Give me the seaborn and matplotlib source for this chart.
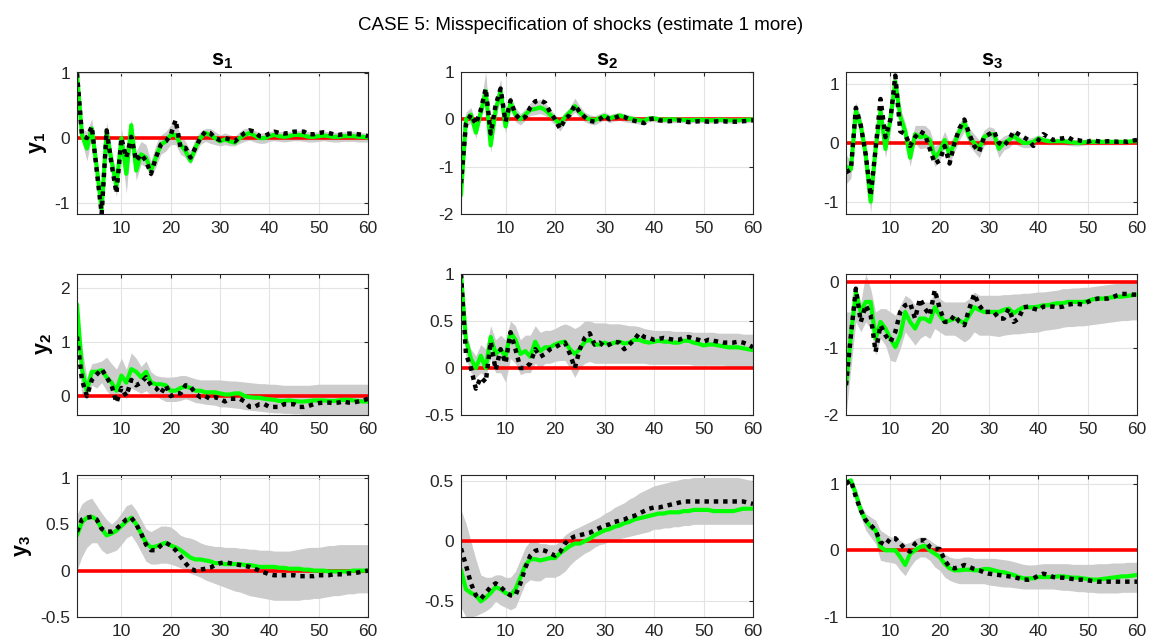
import numpy as np
import pandas as pd
import matplotlib
matplotlib.use("Agg")
import matplotlib.pyplot as plt
import seaborn as sns
from matplotlib.ticker import FormatStrFormatter, FixedLocator

# ---------------- data ----------------
title = "CASE 5: Misspecification of shocks (estimate 1 more)"
col_titles = [r"$\mathbf{s_1}$", r"$\mathbf{s_2}$", r"$\mathbf{s_3}$"]
row_labels = [r"$\mathbf{y_1}$", r"$\mathbf{y_2}$", r"$\mathbf{y_3}$"]
xticks = [10, 20, 30, 40, 50, 60]

# panel (y1, s1)
green11 = [1.0, 0.05, -0.16, 0.15, -0.45, -1.1, 0.1, -0.35, -0.75, 0.0, -0.55, 0.2, -0.5, -0.25, -0.3, -0.5, -0.3, -0.1, -0.05, 0.05, 0.05, -0.1, -0.2, -0.35, -0.15, 0.0, 0.08, 0.05, 0.0, -0.05, -0.02, -0.05, -0.07, 0.0, 0.05, 0.08, 0.04, 0.0, 0.0, 0.03, 0.05, 0.03, 0.02, 0.03, 0.05, 0.05, 0.04, 0.02, 0.02, 0.03, 0.04, 0.03, 0.02, 0.02, 0.03, 0.03, 0.03, 0.02, 0.02, 0.01]
black11 = [1.0, 0.05, 0.0, 0.18, -0.5, -1.17, 0.12, -0.4, -0.85, 0.0, -0.3, 0.02, -0.35, -0.25, -0.35, -0.55, -0.3, -0.1, -0.05, 0.05, 0.28, -0.15, -0.15, -0.3, -0.15, 0.0, 0.1, 0.08, 0.0, -0.03, 0.0, -0.02, -0.05, 0.02, 0.08, 0.12, 0.1, 0.03, 0.03, 0.07, 0.1, 0.08, 0.07, 0.08, 0.1, 0.1, 0.1, 0.06, 0.06, 0.08, 0.09, 0.08, 0.06, 0.05, 0.06, 0.07, 0.07, 0.06, 0.05, 0.03]
lo11 = [1.0, -0.05, -0.35, 0.0, -0.6, -1.2, -0.05, -0.5, -0.9, -0.15, -0.85, 0.0, -0.65, -0.4, -0.45, -0.6, -0.45, -0.25, -0.2, -0.1, -0.1, -0.25, -0.3, -0.4, -0.25, -0.1, -0.05, -0.08, -0.1, -0.12, -0.1, -0.12, -0.12, -0.08, -0.05, -0.03, -0.06, -0.08, -0.08, -0.05, -0.04, -0.05, -0.06, -0.05, -0.04, -0.04, -0.05, -0.06, -0.06, -0.05, -0.04, -0.05, -0.06, -0.06, -0.05, -0.05, -0.05, -0.06, -0.06, -0.06]
hi11 = [1.0, 0.15, 0.1, 0.3, -0.3, -0.95, 0.25, -0.2, -0.6, 0.15, -0.3, 0.3, -0.2, -0.05, -0.1, -0.35, -0.1, 0.05, 0.1, 0.2, 0.22, 0.05, -0.05, -0.2, 0.0, 0.1, 0.15, 0.15, 0.1, 0.05, 0.08, 0.05, 0.03, 0.1, 0.15, 0.15, 0.12, 0.08, 0.08, 0.1, 0.12, 0.1, 0.1, 0.1, 0.12, 0.12, 0.11, 0.1, 0.09, 0.1, 0.11, 0.1, 0.09, 0.09, 0.1, 0.1, 0.1, 0.09, 0.08, 0.08]

# panel (y1, s2)
green12 = [-1.6, 0.0, 0.1, -0.28, 0.15, 0.6, -0.55, 0.2, 0.6, -0.15, 0.35, 0.1, 0.0, 0.1, 0.2, 0.22, 0.25, 0.2, 0.1, 0.0, -0.1, 0.05, 0.15, 0.28, 0.15, 0.05, 0.0, -0.02, 0.03, 0.07, 0.02, 0.05, 0.08, 0.05, 0.02, 0.0, -0.02, -0.03, 0.02, 0.02, 0.0, -0.01, 0.0, 0.0, -0.01, -0.01, -0.02, -0.01, -0.01, -0.01, -0.02, -0.02, -0.01, -0.01, -0.02, -0.02, -0.02, -0.01, -0.01, 0.0]
black12 = [-1.35, -0.1, 0.1, -0.1, 0.2, 0.65, -0.3, 0.3, 0.65, -0.05, 0.4, 0.1, 0.0, 0.05, 0.25, 0.38, 0.4, 0.35, 0.15, 0.0, -0.2, 0.0, 0.1, 0.3, 0.15, 0.05, -0.03, -0.05, 0.0, 0.08, 0.0, 0.03, 0.07, 0.05, 0.0, -0.03, -0.05, -0.08, 0.0, 0.02, -0.02, -0.03, -0.04, -0.03, -0.02, -0.04, -0.06, -0.05, -0.04, -0.04, -0.05, -0.05, -0.04, -0.04, -0.05, -0.05, -0.05, -0.04, -0.03, -0.02]
lo12 = [-1.9, -0.2, -0.05, -0.4, 0.0, 0.4, -0.7, 0.0, 0.45, -0.3, 0.2, -0.05, -0.12, -0.02, 0.08, 0.1, 0.12, 0.08, -0.02, -0.12, -0.25, -0.08, 0.05, 0.15, 0.03, -0.05, -0.1, -0.12, -0.06, -0.02, -0.07, -0.04, -0.02, -0.05, -0.07, -0.08, -0.1, -0.1, -0.05, -0.05, -0.07, -0.07, -0.07, -0.07, -0.07, -0.07, -0.08, -0.07, -0.07, -0.07, -0.08, -0.08, -0.07, -0.07, -0.08, -0.08, -0.08, -0.07, -0.07, -0.06]
hi12 = [-1.2, 0.15, 0.25, -0.1, 0.35, 1.0, -0.3, 0.4, 0.85, 0.05, 0.5, 0.25, 0.12, 0.22, 0.35, 0.38, 0.42, 0.35, 0.22, 0.1, 0.0, 0.15, 0.25, 0.45, 0.28, 0.15, 0.1, 0.07, 0.12, 0.16, 0.1, 0.13, 0.15, 0.12, 0.09, 0.07, 0.05, 0.04, 0.08, 0.08, 0.06, 0.05, 0.05, 0.05, 0.04, 0.04, 0.03, 0.04, 0.04, 0.04, 0.03, 0.03, 0.04, 0.04, 0.03, 0.03, 0.03, 0.04, 0.04, 0.05]

# panel (y1, s3)
green13 = [-0.4, -0.45, 0.55, 0.3, -0.2, -1.0, -0.1, 0.55, -0.1, 0.4, 1.05, 0.45, 0.2, -0.25, 0.15, 0.1, 0.12, 0.05, -0.25, -0.15, 0.05, -0.2, 0.0, 0.2, 0.35, 0.1, 0.0, -0.1, 0.1, 0.15, 0.15, -0.1, 0.0, 0.05, 0.12, 0.05, 0.0, 0.0, 0.02, 0.08, 0.05, 0.03, 0.03, 0.03, 0.03, 0.02, 0.01, 0.0, 0.01, 0.02, 0.02, 0.02, 0.02, 0.02, 0.02, 0.02, 0.02, 0.02, 0.03, 0.03]
black13 = [-0.5, -0.45, 0.6, 0.3, -0.2, -0.9, -0.1, 0.75, 0.1, 0.4, 1.15, 0.2, 0.15, -0.05, 0.1, 0.2, 0.15, -0.1, -0.35, -0.3, -0.05, -0.35, 0.0, 0.25, 0.4, 0.15, -0.05, -0.15, 0.1, 0.15, 0.2, 0.0, -0.05, 0.05, 0.2, 0.15, 0.1, 0.05, -0.05, 0.05, 0.15, 0.1, 0.05, 0.07, 0.08, 0.1, 0.05, 0.05, 0.03, 0.02, 0.05, 0.03, 0.02, 0.03, 0.03, 0.02, 0.03, 0.02, 0.04, 0.05]
lo13 = [-0.7, -0.6, 0.4, 0.15, -0.35, -1.2, -0.25, 0.35, -0.25, 0.25, 0.9, 0.3, 0.05, -0.4, 0.0, -0.1, -0.08, -0.12, -0.4, -0.3, -0.1, -0.35, -0.15, 0.05, 0.2, -0.05, -0.15, -0.25, -0.05, 0.0, 0.0, -0.25, -0.12, -0.08, 0.0, -0.05, -0.08, -0.08, -0.06, 0.0, -0.02, -0.03, -0.03, -0.03, -0.03, -0.04, -0.05, -0.05, -0.04, -0.03, -0.03, -0.03, -0.03, -0.03, -0.03, -0.03, -0.03, -0.03, -0.02, -0.02]
hi13 = [-0.2, -0.3, 0.7, 0.45, -0.05, -0.8, 0.05, 0.7, 0.05, 0.55, 1.15, 0.6, 0.35, -0.05, 0.3, 0.3, 0.3, 0.22, -0.05, 0.0, 0.2, 0.0, 0.15, 0.35, 0.45, 0.25, 0.15, 0.05, 0.22, 0.28, 0.25, 0.05, 0.12, 0.15, 0.2, 0.12, 0.08, 0.08, 0.1, 0.14, 0.1, 0.08, 0.08, 0.08, 0.08, 0.07, 0.06, 0.06, 0.06, 0.07, 0.07, 0.06, 0.06, 0.06, 0.06, 0.06, 0.06, 0.06, 0.07, 0.07]

# panel (y2, s1)
green21 = [1.7, 0.5, 0.1, 0.45, 0.45, 0.48, 0.35, 0.25, 0.1, 0.38, 0.25, 0.5, 0.45, 0.35, 0.45, 0.25, 0.22, 0.22, 0.2, 0.1, 0.1, 0.15, 0.18, 0.15, 0.1, 0.1, 0.07, 0.07, 0.07, 0.05, 0.03, 0.03, 0.05, 0.05, 0.0, -0.02, -0.03, -0.03, -0.05, -0.06, -0.07, -0.09, -0.09, -0.08, -0.09, -0.1, -0.1, -0.09, -0.08, -0.08, -0.08, -0.09, -0.09, -0.08, -0.07, -0.07, -0.08, -0.09, -0.1, -0.1]
black21 = [1.1, 0.3, 0.0, 0.3, 0.4, 0.5, 0.35, 0.2, -0.12, 0.15, 0.0, 0.3, 0.2, 0.25, 0.35, 0.2, 0.15, 0.05, 0.2, 0.0, 0.05, 0.05, 0.2, 0.18, 0.05, -0.02, 0.0, -0.05, -0.02, -0.05, -0.1, -0.05, -0.05, -0.05, -0.1, -0.2, -0.2, -0.15, -0.15, -0.2, -0.2, -0.2, -0.15, -0.15, -0.15, -0.2, -0.2, -0.18, -0.15, -0.13, -0.12, -0.12, -0.13, -0.12, -0.1, -0.12, -0.12, -0.1, -0.08, -0.05]
lo21 = [1.0, 0.0, -0.05, 0.2, 0.15, 0.25, 0.1, 0.0, -0.1, 0.05, -0.05, 0.15, 0.1, 0.05, 0.1, 0.02, 0.0, -0.05, -0.1, -0.1, -0.1, -0.08, -0.05, -0.08, -0.12, -0.13, -0.15, -0.16, -0.17, -0.2, -0.2, -0.21, -0.22, -0.23, -0.25, -0.26, -0.27, -0.28, -0.29, -0.3, -0.31, -0.31, -0.32, -0.32, -0.33, -0.33, -0.34, -0.34, -0.35, -0.35, -0.35, -0.35, -0.35, -0.35, -0.35, -0.35, -0.35, -0.35, -0.35, -0.35]
hi21 = [1.7, 0.9, 0.35, 0.6, 0.62, 0.65, 0.72, 0.6, 0.5, 0.7, 0.5, 0.8, 0.7, 0.55, 0.65, 0.45, 0.38, 0.36, 0.35, 0.35, 0.36, 0.38, 0.38, 0.35, 0.32, 0.3, 0.3, 0.3, 0.3, 0.3, 0.29, 0.28, 0.28, 0.27, 0.26, 0.25, 0.24, 0.23, 0.23, 0.22, 0.22, 0.21, 0.2, 0.2, 0.2, 0.2, 0.2, 0.2, 0.21, 0.22, 0.22, 0.22, 0.22, 0.22, 0.22, 0.22, 0.22, 0.22, 0.22, 0.22]

# panel (y2, s2)
green22 = [1.0, 0.3, 0.1, 0.0, 0.13, 0.0, 0.33, 0.15, 0.2, 0.12, 0.38, 0.3, 0.15, 0.18, 0.12, 0.28, 0.18, 0.22, 0.22, 0.25, 0.27, 0.28, 0.2, 0.15, 0.2, 0.28, 0.3, 0.25, 0.25, 0.27, 0.25, 0.27, 0.28, 0.26, 0.27, 0.3, 0.3, 0.28, 0.27, 0.28, 0.29, 0.28, 0.28, 0.27, 0.27, 0.29, 0.29, 0.27, 0.26, 0.24, 0.25, 0.25, 0.24, 0.23, 0.22, 0.22, 0.22, 0.21, 0.2, 0.19]
black22 = [1.0, 0.15, 0.0, -0.22, -0.1, -0.15, 0.28, -0.02, 0.2, 0.05, 0.38, 0.2, 0.0, 0.0, 0.05, 0.2, 0.12, 0.15, 0.2, 0.22, 0.25, 0.27, 0.15, 0.0, 0.2, 0.32, 0.37, 0.25, 0.27, 0.23, 0.25, 0.28, 0.27, 0.2, 0.25, 0.3, 0.37, 0.33, 0.32, 0.3, 0.31, 0.32, 0.31, 0.3, 0.3, 0.32, 0.33, 0.31, 0.3, 0.28, 0.3, 0.29, 0.28, 0.27, 0.27, 0.27, 0.28, 0.27, 0.25, 0.22]
lo22 = [1.0, 0.1, -0.05, -0.1, -0.05, -0.1, 0.1, -0.05, -0.05, -0.15, 0.1, 0.05, -0.07, -0.05, -0.05, 0.05, 0.0, 0.05, 0.05, 0.07, 0.08, 0.08, 0.0, -0.1, 0.0, 0.05, 0.07, 0.05, 0.05, 0.05, 0.05, 0.05, 0.05, 0.05, 0.05, 0.05, 0.05, 0.05, 0.04, 0.04, 0.04, 0.04, 0.04, 0.04, 0.04, 0.04, 0.04, 0.03, 0.03, 0.03, 0.03, 0.03, 0.03, 0.03, 0.02, 0.02, 0.02, 0.02, 0.02, 0.02]
hi22 = [1.0, 0.35, 0.2, 0.13, 0.25, 0.2, 0.45, 0.3, 0.35, 0.3, 0.5, 0.45, 0.3, 0.35, 0.35, 0.45, 0.38, 0.4, 0.4, 0.42, 0.45, 0.47, 0.45, 0.42, 0.45, 0.5, 0.5, 0.48, 0.48, 0.48, 0.47, 0.47, 0.47, 0.46, 0.45, 0.45, 0.44, 0.42, 0.41, 0.4, 0.4, 0.4, 0.4, 0.39, 0.39, 0.39, 0.39, 0.38, 0.38, 0.38, 0.38, 0.38, 0.37, 0.37, 0.37, 0.37, 0.37, 0.36, 0.36, 0.36]

# panel (y2, s3)
green23 = [-1.55, -0.8, -0.15, -0.45, -0.3, -0.3, -0.85, -0.6, -0.7, -0.85, -0.98, -0.8, -0.45, -0.6, -0.7, -0.55, -0.55, -0.6, -0.38, -0.5, -0.6, -0.58, -0.55, -0.58, -0.62, -0.5, -0.38, -0.42, -0.45, -0.45, -0.45, -0.45, -0.42, -0.4, -0.47, -0.42, -0.38, -0.38, -0.38, -0.37, -0.35, -0.35, -0.33, -0.32, -0.32, -0.3, -0.3, -0.3, -0.3, -0.29, -0.26, -0.25, -0.25, -0.24, -0.23, -0.22, -0.22, -0.21, -0.2, -0.19]
black23 = [-1.55, -0.8, -0.1, -0.6, -0.35, -0.5, -1.05, -0.65, -0.8, -0.9, -0.75, -0.45, -0.35, -0.32, -0.55, -0.25, -0.4, -0.5, -0.12, -0.4, -0.6, -0.6, -0.5, -0.6, -0.65, -0.4, -0.18, -0.35, -0.45, -0.45, -0.45, -0.55, -0.55, -0.4, -0.6, -0.55, -0.38, -0.37, -0.4, -0.42, -0.37, -0.37, -0.37, -0.38, -0.37, -0.34, -0.33, -0.33, -0.34, -0.3, -0.27, -0.25, -0.25, -0.25, -0.23, -0.2, -0.18, -0.18, -0.19, -0.19]
lo23 = [-2.0, -1.3, -0.6, -0.75, -0.6, -0.7, -1.1, -0.85, -0.95, -1.18, -1.2, -1.0, -0.75, -0.85, -0.95, -0.85, -0.8, -0.85, -0.7, -0.75, -0.8, -0.8, -0.8, -0.85, -0.9, -0.85, -0.75, -0.8, -0.8, -0.8, -0.81, -0.82, -0.8, -0.79, -0.78, -0.78, -0.77, -0.76, -0.76, -0.75, -0.73, -0.72, -0.71, -0.7, -0.68, -0.67, -0.67, -0.66, -0.66, -0.65, -0.64, -0.63, -0.62, -0.61, -0.6, -0.59, -0.58, -0.58, -0.57, -0.57]
hi23 = [-0.45, -0.45, -0.1, -0.3, 0.12, -0.1, -0.45, -0.4, -0.4, -0.45, -0.5, -0.35, -0.2, -0.25, -0.35, -0.3, -0.3, -0.3, -0.15, -0.25, -0.3, -0.3, -0.3, -0.3, -0.3, -0.25, -0.15, -0.2, -0.2, -0.2, -0.2, -0.2, -0.19, -0.19, -0.18, -0.18, -0.17, -0.17, -0.16, -0.15, -0.15, -0.14, -0.13, -0.12, -0.1, -0.1, -0.09, -0.09, -0.08, -0.08, -0.07, -0.06, -0.05, -0.04, -0.03, -0.02, -0.01, 0.0, 0.01, 0.02]

# panel (y3, s1)
green31 = [0.38, 0.52, 0.57, 0.58, 0.55, 0.45, 0.38, 0.4, 0.43, 0.48, 0.53, 0.57, 0.5, 0.4, 0.3, 0.25, 0.26, 0.28, 0.3, 0.27, 0.25, 0.22, 0.18, 0.14, 0.12, 0.12, 0.11, 0.1, 0.08, 0.08, 0.07, 0.07, 0.07, 0.07, 0.06, 0.06, 0.05, 0.04, 0.04, 0.04, 0.04, 0.03, 0.03, 0.02, 0.02, 0.02, 0.01, 0.01, 0.0, 0.0, 0.0, -0.01, -0.01, -0.01, -0.01, -0.01, 0.0, 0.0, 0.0, 0.0]
black31 = [0.42, 0.55, 0.57, 0.58, 0.55, 0.45, 0.42, 0.42, 0.45, 0.5, 0.55, 0.57, 0.5, 0.4, 0.28, 0.22, 0.22, 0.27, 0.3, 0.27, 0.22, 0.15, 0.08, 0.02, 0.0, 0.01, 0.02, 0.03, 0.06, 0.08, 0.09, 0.08, 0.07, 0.06, 0.05, 0.04, 0.02, 0.0, -0.02, -0.04, -0.05, -0.05, -0.05, -0.05, -0.05, -0.06, -0.06, -0.06, -0.06, -0.05, -0.05, -0.05, -0.04, -0.04, -0.04, -0.03, -0.03, -0.02, -0.01, 0.0]
lo31 = [0.0, 0.15, 0.25, 0.3, 0.3, 0.22, 0.18, 0.2, 0.22, 0.28, 0.35, 0.38, 0.3, 0.2, 0.1, 0.07, 0.07, 0.08, 0.08, 0.07, 0.05, 0.03, 0.0, -0.03, -0.05, -0.07, -0.1, -0.12, -0.14, -0.16, -0.18, -0.2, -0.22, -0.23, -0.25, -0.27, -0.28, -0.29, -0.3, -0.31, -0.32, -0.32, -0.32, -0.32, -0.32, -0.32, -0.31, -0.31, -0.3, -0.3, -0.29, -0.28, -0.27, -0.27, -0.26, -0.25, -0.25, -0.24, -0.24, -0.24]
hi31 = [0.6, 0.72, 0.76, 0.78, 0.7, 0.62, 0.55, 0.5, 0.55, 0.62, 0.7, 0.72, 0.65, 0.55, 0.45, 0.42, 0.45, 0.48, 0.48, 0.47, 0.43, 0.38, 0.36, 0.35, 0.33, 0.3, 0.28, 0.27, 0.26, 0.26, 0.25, 0.25, 0.25, 0.24, 0.24, 0.23, 0.23, 0.22, 0.22, 0.22, 0.21, 0.21, 0.21, 0.21, 0.22, 0.23, 0.24, 0.25, 0.25, 0.25, 0.26, 0.27, 0.27, 0.28, 0.28, 0.28, 0.28, 0.28, 0.28, 0.28]

# panel (y3, s2)
green32 = [-0.24, -0.4, -0.43, -0.45, -0.5, -0.47, -0.43, -0.38, -0.4, -0.43, -0.45, -0.4, -0.3, -0.2, -0.15, -0.15, -0.16, -0.15, -0.14, -0.14, -0.1, -0.07, -0.04, -0.02, -0.02, 0.0, 0.02, 0.05, 0.07, 0.09, 0.1, 0.12, 0.13, 0.15, 0.16, 0.18, 0.19, 0.2, 0.21, 0.22, 0.23, 0.23, 0.24, 0.24, 0.24, 0.25, 0.25, 0.26, 0.26, 0.26, 0.26, 0.25, 0.25, 0.25, 0.25, 0.25, 0.26, 0.27, 0.27, 0.27]
black32 = [-0.06, -0.2, -0.35, -0.45, -0.48, -0.43, -0.38, -0.35, -0.38, -0.42, -0.45, -0.45, -0.35, -0.22, -0.12, -0.08, -0.07, -0.08, -0.1, -0.12, -0.09, -0.02, 0.02, 0.04, 0.05, 0.06, 0.07, 0.09, 0.11, 0.13, 0.14, 0.16, 0.17, 0.18, 0.2, 0.21, 0.23, 0.25, 0.27, 0.28, 0.28, 0.29, 0.3, 0.31, 0.32, 0.33, 0.33, 0.33, 0.33, 0.33, 0.33, 0.33, 0.33, 0.33, 0.33, 0.33, 0.33, 0.33, 0.32, 0.31]
lo32 = [-0.55, -0.63, -0.63, -0.62, -0.6, -0.58, -0.55, -0.5, -0.53, -0.55, -0.57, -0.55, -0.45, -0.35, -0.32, -0.33, -0.33, -0.3, -0.3, -0.3, -0.28, -0.25, -0.2, -0.16, -0.13, -0.1, -0.08, -0.05, -0.03, -0.02, 0.0, 0.01, 0.02, 0.03, 0.04, 0.05, 0.06, 0.07, 0.08, 0.1, 0.1, 0.11, 0.11, 0.12, 0.12, 0.13, 0.13, 0.14, 0.14, 0.14, 0.14, 0.14, 0.14, 0.14, 0.14, 0.14, 0.14, 0.14, 0.14, 0.14]
hi32 = [0.26, 0.15, 0.0, -0.15, -0.28, -0.3, -0.3, -0.28, -0.28, -0.3, -0.3, -0.25, -0.15, -0.05, 0.0, 0.0, -0.02, -0.02, -0.03, -0.03, 0.0, 0.05, 0.08, 0.1, 0.12, 0.14, 0.16, 0.18, 0.2, 0.23, 0.25, 0.28, 0.3, 0.32, 0.35, 0.37, 0.4, 0.42, 0.44, 0.46, 0.47, 0.48, 0.49, 0.5, 0.51, 0.52, 0.52, 0.53, 0.53, 0.53, 0.53, 0.53, 0.53, 0.53, 0.53, 0.53, 0.53, 0.52, 0.51, 0.5]

# panel (y3, s3)
green33 = [1.02, 1.05, 0.85, 0.6, 0.45, 0.35, 0.3, 0.05, 0.0, 0.0, 0.0, -0.1, -0.22, -0.05, 0.0, 0.05, 0.07, 0.0, -0.05, -0.1, -0.2, -0.27, -0.3, -0.3, -0.29, -0.29, -0.3, -0.3, -0.28, -0.28, -0.3, -0.32, -0.33, -0.35, -0.37, -0.4, -0.42, -0.42, -0.42, -0.4, -0.4, -0.4, -0.4, -0.39, -0.39, -0.4, -0.41, -0.41, -0.42, -0.43, -0.44, -0.44, -0.43, -0.42, -0.41, -0.4, -0.39, -0.39, -0.38, -0.37]
black33 = [1.0, 1.05, 0.8, 0.6, 0.45, 0.38, 0.3, 0.12, 0.08, 0.18, 0.18, 0.1, 0.02, -0.02, 0.1, 0.15, 0.15, 0.05, 0.02, 0.02, -0.15, -0.25, -0.27, -0.25, -0.22, -0.25, -0.28, -0.3, -0.33, -0.35, -0.36, -0.37, -0.38, -0.39, -0.4, -0.42, -0.44, -0.44, -0.42, -0.38, -0.35, -0.37, -0.4, -0.41, -0.41, -0.42, -0.43, -0.44, -0.44, -0.45, -0.46, -0.47, -0.47, -0.47, -0.47, -0.47, -0.47, -0.47, -0.47, -0.47]
lo33 = [1.0, 1.0, 0.7, 0.5, 0.3, 0.2, 0.1, -0.15, -0.17, -0.18, -0.2, -0.3, -0.38, -0.25, -0.15, -0.1, -0.1, -0.15, -0.25, -0.3, -0.4, -0.45, -0.48, -0.5, -0.5, -0.5, -0.5, -0.5, -0.5, -0.52, -0.53, -0.54, -0.55, -0.55, -0.56, -0.57, -0.58, -0.58, -0.58, -0.58, -0.58, -0.58, -0.58, -0.59, -0.6, -0.6, -0.61, -0.62, -0.62, -0.63, -0.63, -0.64, -0.64, -0.64, -0.64, -0.64, -0.63, -0.63, -0.63, -0.63]
hi33 = [1.02, 1.05, 0.9, 0.7, 0.55, 0.5, 0.45, 0.3, 0.25, 0.2, 0.2, 0.15, 0.1, 0.12, 0.17, 0.2, 0.2, 0.15, 0.1, 0.05, -0.05, -0.1, -0.12, -0.12, -0.1, -0.1, -0.12, -0.12, -0.12, -0.12, -0.12, -0.13, -0.14, -0.15, -0.17, -0.19, -0.21, -0.22, -0.22, -0.21, -0.2, -0.2, -0.2, -0.2, -0.2, -0.2, -0.21, -0.21, -0.21, -0.21, -0.21, -0.2, -0.2, -0.2, -0.19, -0.19, -0.19, -0.18, -0.18, -0.18]

# y-axis limits / ticks per panel (row-major)
ylims = [(-1.17, 1.02), (-2.0, 1.0), (-1.21, 1.21),
         (-0.35, 2.26), (-0.5, 1.0), (-2.0, 0.12),
         (-0.5, 1.03), (-0.63, 0.55), (-1.0, 1.13)]
yticks = [[-1, 0, 1], [-2, -1, 0, 1], [-1, 0, 1],
          [0, 1, 2], [-0.5, 0, 0.5, 1], [-2, -1, 0],
          [-0.5, 0, 0.5, 1], [-0.5, 0, 0.5], [-1, 0, 1]]

greens = [green11, green12, green13, green21, green22, green23, green31, green32, green33]
blacks = [black11, black12, black13, black21, black22, black23, black31, black32, black33]
los = [lo11, lo12, lo13, lo21, lo22, lo23, lo31, lo32, lo33]
his = [hi11, hi12, hi13, hi21, hi22, hi23, hi31, hi32, hi33]

# ---------------- figure ----------------
sns.set_style("white")
plt.rcParams['font.family'] = ['Liberation Sans', 'DejaVu Sans']
plt.rcParams['axes.unicode_minus'] = False
plt.rcParams['mathtext.fontset'] = 'custom'
plt.rcParams['mathtext.rm'] = 'Liberation Sans'
plt.rcParams['mathtext.it'] = 'Liberation Sans'
plt.rcParams['mathtext.bf'] = 'Liberation Sans:bold'

W, H = 1149, 644
fig = plt.figure(figsize=(W / 100, H / 100), dpi=100)

col_left = [77, 461, 846]
col_w = [291, 292, 291]
row_top = [72, 274, 475]
row_h = [142, 141, 142]

axcol = '#262626'
for i in range(3):
    for j in range(3):
        k = i * 3 + j
        l, w = col_left[j], col_w[j]
        t, h = row_top[i], row_h[i]
        ax = fig.add_axes([l / W, 1 - (t + h) / H, w / W, h / H])
        g = np.array(greens[k]); b = np.array(blacks[k])
        lo = np.array(los[k]); hi = np.array(his[k])
        xg = np.arange(1, len(g) + 1)
        xb = np.arange(1, len(b) + 1)
        xl = np.arange(1, min(len(lo), len(hi)) + 1)
        n = len(xl)
        ax.fill_between(xl, lo[:n], hi[:n], color='#CCCCCC', lw=0, zorder=1)
        ax.axhline(0, color='#FF0000', lw=2.6, zorder=2)
        df = pd.DataFrame({'h': xg, 'v': g})
        sns.lineplot(data=df, x='h', y='v', ax=ax, color='#00FF00', lw=3, zorder=3)
        dfb = pd.DataFrame({'h': xb, 'v': b})
        sns.lineplot(data=dfb, x='h', y='v', ax=ax, color='black', lw=3.2,
                     linestyle=(0, (1, 1.1)), zorder=4)
        ax.set_xlim(1, 60)
        ax.set_ylim(*ylims[k])
        ax.xaxis.set_major_locator(FixedLocator(xticks))
        ax.yaxis.set_major_locator(FixedLocator(yticks[k]))
        ax.yaxis.set_major_formatter(FormatStrFormatter('%g'))
        ax.grid(True, color='#E3E3E3', lw=0.8, zorder=0)
        ax.set_axisbelow(True)
        ax.set_xlabel('')
        ax.set_ylabel('')
        ax.tick_params(direction='in', length=3, width=0.8, colors=axcol,
                       labelsize=12.5, top=True, right=True, pad=5)
        for sp in ax.spines.values():
            sp.set_color(axcol)
            sp.set_linewidth(0.8)
            sp.set_zorder(5)
        if i == 0:
            ax.set_title(col_titles[j], fontsize=15.5, pad=5, color='black')
        if j == 0:
            ax.set_ylabel(row_labels[i], fontsize=15.5, color='black', labelpad=4)

fig.text(0.505, 0.961, title, ha='center', va='center', fontsize=13.5, color='black')

fig.savefig('out.png', dpi=100)
